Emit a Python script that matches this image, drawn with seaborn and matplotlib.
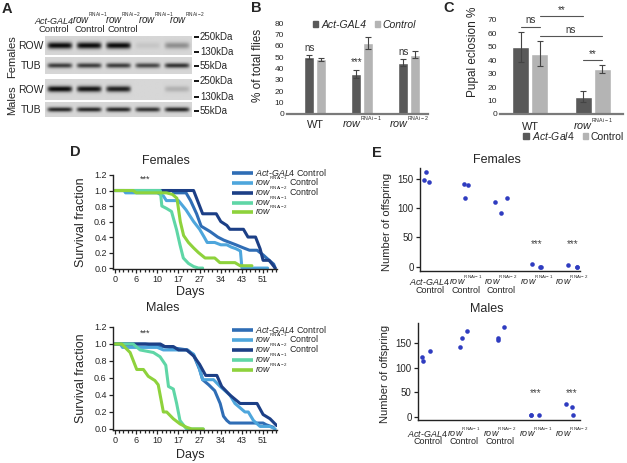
import matplotlib
matplotlib.use("Agg")
import matplotlib.pyplot as plt
from matplotlib.lines import Line2D
from matplotlib.patches import Patch
import numpy as np
import pandas as pd
import seaborn as sns

# ---- data ----
# A: western blot band strength per lane (0..1)
blot_lanes = ["Act-GAL4 Control", "rowRNAi-1 Control", "rowRNAi-2 Control", "rowRNAi-1", "rowRNAi-2"]
fem_row = [1.0, 1.0, 1.0, 0.08, 0.35]
fem_tub = [0.75, 0.75, 0.75, 0.7, 0.8]
male_row = [1.0, 0.95, 0.9, 0.0, 0.18]
male_tub = [0.85, 0.85, 0.85, 0.8, 0.85]
fem_kda = ["250kDa", "130kDa", "55kDa"]
male_kda = ["250kDa", "130kDa", "55kDa"]

# B: % of total flies
b_groups = ["WT", "rowRNAi-1", "rowRNAi-2"]
b_act = [50, 35.5, 45]
b_act_err = [1.5, 3.5, 3]
b_ctrl = [48, 62.5, 52]
b_ctrl_err = [1.5, 5, 3]
b_sig = ["ns", "***", "ns"]

# C: pupal eclosion %
c_groups = ["WT", "rowRNAi-1"]
c_act = [50, 13]
c_act_err = [11, 4]
c_ctrl = [45, 33.5]
c_ctrl_err = [9.5, 3]
# (group, hue) -> (group, hue), height, label
c_brackets = [((0, 0), (0, 1), 65, "ns"), ((0, 1), (1, 0), 73, "**"),
              ((0, 1), (1, 1), 58, "ns"), ((1, 0), (1, 1), 40, "**")]

# D: survival curves (x in axis units, ticks every 7 labelled below)
genos = ["Act-GAL4 Control", "rowRNAi-1 Control", "rowRNAi-2 Control", "rowRNAi-1", "rowRNAi-2"]
day_ticks = ["0", "6", "10", "17", "27", "34", "43", "51"]

act_f_day = [0, 19, 19.5, 23.5, 25, 27, 28.5, 31.5, 34, 36, 38, 40, 42.5, 44.5, 47, 49, 51, 52.5, 53]
act_f = [1.0, 1.0, 0.97, 0.97, 0.87, 0.7, 0.54, 0.47, 0.4, 0.36, 0.33, 0.3, 0.26, 0.23, 0.23, 0.17, 0.1, 0.05, 0.0]
r1c_f_day = [0, 3, 3.5, 14, 16, 17, 21, 23.5, 26, 28, 29.5, 30.5, 33, 35, 37, 38.5, 40, 41.5, 42, 50.5]
r1c_f = [1.0, 1.0, 0.97, 0.97, 0.93, 0.87, 0.87, 0.75, 0.6, 0.5, 0.4, 0.33, 0.33, 0.3, 0.3, 0.27, 0.25, 0.22, 0.0, 0.0]
r2c_f_day = [0, 26, 27.5, 29, 33.5, 35, 37, 38, 42.5, 44, 46.5, 48, 49, 51, 52, 53]
r2c_f = [1.0, 1.0, 0.85, 0.7, 0.7, 0.6, 0.55, 0.5, 0.5, 0.4, 0.4, 0.25, 0.1, 0.1, 0.05, 0.0]
r1_f_day = [0, 15, 15.5, 17, 18.7, 20.4, 21.5, 22.6, 24.3, 26, 27.6, 29]
r1_f = [1.0, 1.0, 0.8, 0.77, 0.73, 0.49, 0.3, 0.13, 0.06, 0.02, 0.0, 0.0]
r2_f_day = [0, 6, 7, 17, 19, 20.5, 21.6, 22.7, 24.3, 26, 27.6, 29.8, 33, 34.7, 39.7, 41.4, 45.3]
r2_f = [1.0, 1.0, 0.97, 0.97, 0.95, 0.9, 0.6, 0.42, 0.33, 0.26, 0.2, 0.13, 0.13, 0.07, 0.07, 0.03, 0.03]

act_m_day = [0, 10, 16, 24, 26, 28, 29, 31, 33, 34.8, 35.9, 37, 38, 49, 50, 52.4]
act_m = [1.0, 1.0, 0.97, 0.93, 0.87, 0.7, 0.58, 0.52, 0.45, 0.3, 0.15, 0.1, 0.07, 0.07, 0.05, 0.02]
r1c_m_day = [0, 1.7, 2.5, 14, 16, 23.7, 26, 27.6, 29, 32.6, 34.8, 38, 39.7, 43, 44.1, 45.8, 48, 51.3, 53]
r1c_m = [1.0, 1.0, 0.96, 0.96, 0.93, 0.93, 0.88, 0.75, 0.58, 0.58, 0.5, 0.4, 0.3, 0.2, 0.2, 0.1, 0.03, 0.03, 0.0]
r2c_m_day = [0, 15, 16.5, 19.3, 21, 23.7, 26, 28, 30, 33.7, 35.3, 38, 39.7, 41.4, 47, 49, 51.3, 53.5]
r2c_m = [1.0, 1.0, 0.97, 0.97, 0.93, 0.93, 0.86, 0.76, 0.63, 0.63, 0.5, 0.4, 0.35, 0.3, 0.3, 0.17, 0.12, 0.04]
r1_m_day = [0, 6, 8.3, 12.7, 14.9, 16.8, 17.7, 19.3, 20.4, 21.5, 23, 23.7, 29.2]
r1_m = [1.0, 1.0, 0.93, 0.9, 0.85, 0.75, 0.5, 0.47, 0.3, 0.1, 0.03, 0.0, 0.0]
r2_m_day = [0, 2.2, 5, 7.2, 9.4, 11, 13.2, 14.3, 16, 17.1, 19.3, 21.5, 23.7, 25.4, 29.2]
r2_m = [1.0, 1.0, 0.9, 0.7, 0.7, 0.62, 0.57, 0.52, 0.2, 0.2, 0.12, 0.06, 0.02, 0.0, 0.0]

# E: number of offspring, 3 vials per genotype
e_groups = ["Act-GAL4 Control", "rowRNAi-1 Control", "rowRNAi-2 Control", "rowRNAi-1", "rowRNAi-2"]
e_fem = [[162, 148, 144], [139, 141, 117], [111, 92, 118], [0, 0, 5], [0, 0, 3]]
e_male = [[134, 121, 113], [161, 141, 174], [183, 157, 160], [4, 4, 4], [4, 27, 21]]
e_sig = ["", "", "", "***", "***"]

# ---- style ----
sns.set_style("white")
plt.rcParams["font.family"] = ["Liberation Sans", "DejaVu Sans"]
plt.rcParams["mathtext.fontset"] = "custom"
plt.rcParams["mathtext.rm"] = "Liberation Sans"
plt.rcParams["mathtext.it"] = "Liberation Sans:italic"
plt.rcParams["mathtext.bf"] = "Liberation Sans:bold"

ACT = r"$\mathit{Act}$-$\mathit{GAL4}$"
R1 = r"$\mathit{row}^{{}^{\mathrm{RNAi-1}}}$"
R2 = r"$\mathit{row}^{{}^{\mathrm{RNAi-2}}}$"
nice = {"Act-GAL4 Control": ACT + " Control", "rowRNAi-1 Control": R1 + " Control",
        "rowRNAi-2 Control": R2 + " Control", "rowRNAi-1": R1, "rowRNAi-2": R2, "WT": "WT"}
first_line = {"Act-GAL4 Control": ACT, "rowRNAi-1 Control": R1, "rowRNAi-2 Control": R2,
              "rowRNAi-1": R1, "rowRNAi-2": R2, "WT": "WT"}

dark, light = "#595959", "#b4b4b4"
curve_cols = ["#2f6db5", "#4ea6dc", "#1c3f86", "#5fd6a6", "#8ed23c"]
dot_col = "#2f3cc0"

W, H = 627, 463
fig = plt.figure(figsize=(W / 100, H / 100), dpi=100)


def box(x0, y0, x1, y1):
    return [x0 / W, 1 - y1 / H, (x1 - x0) / W, (y1 - y0) / H]


def ftext(x, y, s, **kw):
    fig.text(x / W, 1 - y / H, s, **kw)


def hline(x0, x1, y, lw=1.3, color="k"):
    fig.add_artist(Line2D([x0 / W, x1 / W], [1 - y / H] * 2, transform=fig.transFigure, color=color,
                          lw=lw, solid_capstyle="butt"))


def cat_labels(ax, groups, y1, y2, fs):
    # category names placed on a common baseline, "Control" on a second line
    ax.set_xticks(range(len(groups)))
    ax.set_xticklabels([""] * len(groups))
    tr = ax.get_xaxis_transform()
    for i, g in enumerate(groups):
        ax.text(i, y1, first_line[g], transform=tr, ha="center", va="baseline", fontsize=fs)
        if g.endswith("Control"):
            ax.text(i, y2, "Control", transform=tr, ha="center", va="baseline", fontsize=fs)


def blot_strip(ax, lanes, sigma):
    h, w = 40, 300
    yy = np.linspace(-1, 1, h)[:, None]
    xx = np.linspace(0, len(lanes) - 1e-6, w)[None, :]
    idx = xx.astype(int)
    shape = np.exp(-((xx - idx - 0.5) / 0.42) ** 8)
    inten = np.array(lanes)[idx] * shape
    img = 0.84 - 0.8 * np.exp(-(yy / sigma) ** 2) * inten
    ax.imshow(img, cmap="gray", vmin=0, vmax=1, aspect="auto", interpolation="bilinear")
    ax.axis("off")


# ---- panel letters ----
for lab, x, y in [("A", 7, 9), ("B", 256, 8), ("C", 449, 8), ("D", 75, 152), ("E", 377, 153)]:
    ftext(x, y, lab, fontsize=10.5, fontweight="bold", ha="center", va="center")

# ---- A: blot ----
strips = [(36, 55, fem_row, 0.35), (57, 74, fem_tub, 0.3), (79, 100, male_row, 0.28), (102, 117, male_tub, 0.32)]
for y0, y1, lanes, sig in strips:
    blot_strip(fig.add_axes(box(45, y0, 192, y1)), lanes, sig)
for name, y in [("ROW", 46), ("TUB", 66), ("ROW", 90), ("TUB", 110)]:
    ftext(31, y, name, fontsize=7.5, ha="center", va="center")
ftext(12, 57, "Females", fontsize=8, rotation=90, ha="center", va="center")
ftext(12, 100, "Males", fontsize=8, rotation=90, ha="center", va="center")
for labels, ys in [(fem_kda, [37, 52, 66]), (male_kda, [81, 97, 111])]:
    for lab, y in zip(labels, ys):
        hline(194, 199, y)
        ftext(200, y, lab, fontsize=7, ha="left", va="center")
head_x = [54, 90, 123, 156, 187]
for name, x in zip(blot_lanes, head_x):
    if name.startswith("Act"):
        ftext(x, 24, "Act-GAL4", fontsize=6.5, style="italic", ha="center", va="baseline")
    else:
        ftext(x, 24, R1 if "1" in name else R2, fontsize=7, ha="center", va="baseline")
    if name.endswith("Control"):
        ftext(x, 32, "Control", fontsize=6.8, ha="center", va="baseline")

# ---- B: bars ----
axB = fig.add_axes(box(287, 23, 428, 114))
df_b = pd.DataFrame({"group": b_groups * 2, "pct": b_act + b_ctrl,
                     "line": ["Act-GAL4"] * 3 + ["Control"] * 3})
sns.barplot(data=df_b, x="group", y="pct", hue="line", palette=[dark, light], order=b_groups,
            width=0.5, gap=0.15, errorbar=None, legend=False, ax=axB)
tops = []
for cont, errs in zip(axB.containers, [b_act_err, b_ctrl_err]):
    xs = [p.get_x() + p.get_width() / 2 for p in cont]
    hs = [p.get_height() for p in cont]
    axB.errorbar(xs, hs, yerr=errs, fmt="none", ecolor="#444444", elinewidth=0.8, capsize=2, capthick=0.8)
    tops.append((xs, hs))
for x, h, e, s in zip(tops[0][0], tops[0][1], b_act_err, b_sig):
    axB.text(x, h + e + 2, s, ha="center", va="bottom", fontsize=7, color="#333333")
axB.set_ylim(0, 80)
axB.set_yticks(range(0, 81, 10))
axB.set_xlim(-0.6, 2.4)
sns.despine(ax=axB, left=True)
axB.spines["bottom"].set_color("#7a7a7a")
axB.spines["bottom"].set_linewidth(1.6)
axB.tick_params(axis="y", length=0, labelsize=6, pad=2)
axB.tick_params(axis="x", length=0)
cat_labels(axB, b_groups, -0.155, -0.3, 7.8)
axB.set_xlabel("")
axB.set_ylabel("% of total flies", fontsize=8.5)
axB.yaxis.set_label_coords(-0.16, 0.53)
axB.legend([Patch(color=dark), Patch(color=light)], ["Act-GAL4", "Control"], loc="center",
           bbox_to_anchor=(0.55, 0.98), ncol=2, frameon=False, handlelength=0.5, handleheight=0.5,
           handletextpad=0.3, columnspacing=0.8, prop={"size": 7.5, "style": "italic"})

# ---- C: bars ----
axC = fig.add_axes(box(500, 20, 623, 114))
df_c = pd.DataFrame({"group": c_groups * 2, "pct": c_act + c_ctrl,
                     "line": ["Act-Gal4"] * 2 + ["Control"] * 2})
sns.barplot(data=df_c, x="group", y="pct", hue="line", palette=[dark, light], order=c_groups,
            width=0.6, gap=0.08, errorbar=None, legend=False, ax=axC)
for cont, errs in zip(axC.containers, [c_act_err, c_ctrl_err]):
    xs = [p.get_x() + p.get_width() / 2 for p in cont]
    hs = [p.get_height() for p in cont]
    axC.errorbar(xs, hs, yerr=errs, fmt="none", ecolor="#444444", elinewidth=0.8, capsize=2, capthick=0.8)


def bar_x(gh):
    p = axC.containers[gh[1]][gh[0]]
    return p.get_x() + p.get_width() / 2


for a, b, y, s in c_brackets:
    x0, x1 = bar_x(a), bar_x(b)
    axC.plot([x0, x1], [y, y], color="#555555", lw=0.8, clip_on=False)
    axC.text((x0 + x1) / 2, y + 1, s, ha="center", va="bottom", fontsize=7, color="#333333", clip_on=False)
axC.set_ylim(0, 70)
axC.set_yticks(range(0, 71, 10))
axC.set_xlim(-0.48, 1.48)
sns.despine(ax=axC, left=True)
axC.spines["bottom"].set_color("#7a7a7a")
axC.spines["bottom"].set_linewidth(1.6)
axC.tick_params(axis="y", length=0, labelsize=6, pad=2)
axC.tick_params(axis="x", length=0)
cat_labels(axC, c_groups, -0.165, -0.3, 7.8)
axC.set_xlabel("")
axC.set_ylabel("Pupal eclosion %", fontsize=8.5)
axC.yaxis.set_label_coords(-0.17, 0.66)
axC.legend([Patch(color=dark), Patch(color=light)], [r"$\mathit{Act}$-$\mathit{Gal4}$", "Control"],
           loc="center", bbox_to_anchor=(0.6, -0.235), ncol=2, frameon=False, handlelength=0.5,
           handleheight=0.5, handletextpad=0.3, columnspacing=0.8, fontsize=7.5)

# ---- D: survival ----
fem_curves = [(act_f_day, act_f), (r1c_f_day, r1c_f), (r2c_f_day, r2c_f), (r1_f_day, r1_f), (r2_f_day, r2_f)]
male_curves = [(act_m_day, act_m), (r1c_m_day, r1c_m), (r2c_m_day, r2c_m), (r1_m_day, r1_m), (r2_m_day, r2_m)]


def survival(rect, curves, title_xy, title, days_y, star_y, leg_y):
    ax = fig.add_axes(box(*rect))
    rows = []
    for g, (d, s) in zip(genos, curves):
        rows += [{"day": a, "surv": b, "geno": g} for a, b in zip(d, s)]
    df = pd.DataFrame(rows)
    sns.lineplot(data=df, x="day", y="surv", hue="geno", hue_order=genos, palette=curve_cols,
                 sort=False, estimator=None, lw=2.2, legend=False, ax=ax)
    ax.set_xlim(-0.66, 53.6)
    ax.set_ylim(-0.012, 1.2)
    ax.set_xticks(np.arange(0, 50, 7))
    ax.set_xticklabels(day_ticks)
    ax.set_xticks(np.arange(0, 53.6, 1.4), minor=True)
    ax.set_yticks(np.arange(0, 1.21, 0.2))
    ax.set_yticklabels([f"{v:.1f}" for v in np.arange(0, 1.21, 0.2)])
    sns.despine(ax=ax)
    for sp in ["left", "bottom"]:
        ax.spines[sp].set_color("#222222")
        ax.spines[sp].set_linewidth(1.0)
    ax.tick_params(axis="both", which="major", direction="out", length=3, width=0.9,
                   labelsize=6.5, pad=1.5, bottom=True, left=True, color="#222222")
    ax.tick_params(axis="x", which="minor", direction="out", length=2.5, width=0.9, bottom=True,
                   color="#222222")
    ax.set_xlabel("")
    ax.set_ylabel("Survival fraction", fontsize=9)
    ax.yaxis.set_label_coords(-0.16, 0.5)
    ax.text(10, star_y, "***", ha="center", va="center", fontsize=6.5, color="#333333")
    ftext(title_xy[0], title_xy[1], title, fontsize=9, ha="center", va="center")
    ftext(190, days_y, "Days", fontsize=9, ha="center", va="center")
    # legend: line handle + label on a shared baseline
    for g, c, y in zip(genos, curve_cols, leg_y):
        hline(232, 253, y, lw=2.6, color=c)
        ftext(255, y + 3, nice[g], fontsize=6.4, ha="left", va="baseline")


survival((113, 175, 277, 269), fem_curves, (166, 161), "Females", 292, 1.15, [173, 183, 193, 203, 212])
survival((113, 327, 277, 430), male_curves, (163, 308), "Males", 455, 1.13, [330, 340, 350, 360, 370])

# ---- E: offspring ----
np.random.seed(11)


def offspring(rect, values, ylim, title_xy, title, star_y, lab_y):
    ax = fig.add_axes(box(*rect))
    rows = []
    for g, vals in zip(e_groups, values):
        rows += [{"group": g, "n": v} for v in vals]
    df = pd.DataFrame(rows)
    sns.stripplot(data=df, x="group", y="n", order=e_groups, jitter=0.18, color=dot_col, size=3.3,
                  linewidth=0, ax=ax)
    for i, s in enumerate(e_sig):
        if s:
            ax.text(i, star_y, s, ha="center", va="center", fontsize=7, color="#444444")
    ax.set_xlim(-0.28, 4.22)
    ax.set_ylim(*ylim)
    ax.set_yticks([0, 50, 100, 150])
    sns.despine(ax=ax)
    for sp in ["left", "bottom"]:
        ax.spines[sp].set_color("#222222")
        ax.spines[sp].set_linewidth(1.0)
    ax.tick_params(axis="y", direction="out", length=3, width=0.9, labelsize=7, pad=1.5, left=True,
                   color="#222222")
    ax.tick_params(axis="x", length=0)
    cat_labels(ax, e_groups, lab_y[0], lab_y[1], 6.5)
    ax.set_xlabel("")
    ax.set_ylabel("Number of offspring", fontsize=8)
    ax.yaxis.set_label_coords(-0.175, 0.48)
    ftext(title_xy[0], title_xy[1], title, fontsize=9, ha="center", va="center")


offspring((420, 168, 580, 271), e_fem, (-7.4, 168.8), (497, 160), "Females", 38, (-0.136, -0.214))
offspring((418, 323, 580, 420), e_male, (-6, 190.5), (487, 309), "Males", 49, (-0.175, -0.25))

fig.savefig("out.png", dpi=100)
